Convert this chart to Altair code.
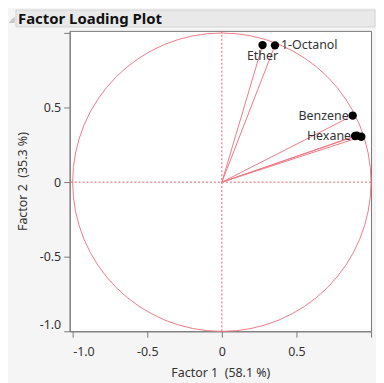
import altair as alt
import pandas as pd

# Loadings
variables = ["Ether", "1-Octanol", "Benzene", "Chloroform", "Carbon Tetrachloride", "Hexane"]
factor1 = [0.273, 0.356, 0.877, 0.906, 0.935, 0.893]
factor2 = [0.920, 0.918, 0.447, 0.312, 0.305, 0.310]
shown_labels = ["Ether", "1-Octanol", "Benzene", "", "", "Hexane"]

tick_values = [-1.0, -0.75, -0.5, -0.25, 0.0, 0.25, 0.5, 0.75, 1.0]
labelled_ticks = [-1.0, -0.5, 0.0, 0.5]

title_text = "Factor Loading Plot"
x_title = "Factor 1\u00a0\u00a0(58.1 %)"
y_title = "Factor 2\u00a0\u00a0(35.3 %)"

df = pd.DataFrame({"var": variables, "f1": factor1, "f2": factor2, "lab": shown_labels})

FONT = "Noto Sans"
RED = "#f07a86"
W, H = 303, 302

label_expr = ("indexof([" + ",".join(str(v) for v in labelled_ticks) + "], datum.value) < 0 ? '' : "
              "(datum.value == 0 ? '0' : (datum.value < 0 ? '-' + format(-datum.value, '.1f') : format(datum.value, '.1f')))")

xs = alt.Scale(domain=[-1.02, 1.0], nice=False, zero=False)
ys = alt.Scale(domain=[-1.0, 1.015], nice=False, zero=False)

x_axis = alt.Axis(values=tick_values, labelExpr=label_expr, grid=False, title=x_title,
                  tickSize=6, labelPadding=8, titlePadding=9, labelFlush=5)
y_axis = alt.Axis(values=tick_values, labelExpr=label_expr, grid=False, title=y_title,
                  tickSize=6, labelPadding=3, titlePadding=10, labelFlush=5)

base = alt.Chart(df)
one = base.transform_filter(alt.datum["var"] == variables[0])

circle = one.mark_arc(theta=0, theta2=6.2832, radius=150, filled=False,
                      stroke=RED, strokeWidth=1).encode(
    x=alt.datum(0, scale=xs, axis=x_axis, type="quantitative"),
    y=alt.datum(0, scale=ys, axis=y_axis, type="quantitative"),
)

vline = one.mark_rule(color="#e8606e", strokeDash=[2, 2], strokeWidth=1).encode(x=alt.datum(0))
hline = one.mark_rule(color="#e8606e", strokeDash=[2, 2], strokeWidth=1).encode(y=alt.datum(0))

vectors = base.mark_rule(color=RED, strokeWidth=1).encode(
    x=alt.X("f1:Q"), y=alt.Y("f2:Q"), x2=alt.datum(0), y2=alt.datum(0))

points = base.mark_circle(color="black", opacity=1, size=70).encode(
    x="f1:Q", y="f2:Q")

txt = dict(font=FONT, fontSize=12.5, color="#333333")
lab_below = base.mark_text(align="center", baseline="top", dy=5, **txt).encode(
    x="f1:Q", y="f2:Q", text="lab:N").transform_filter(alt.datum["var"] == "Ether")
lab_right = base.mark_text(align="left", baseline="middle", dx=6, **txt).encode(
    x="f1:Q", y="f2:Q", text="lab:N").transform_filter(alt.datum["var"] == "1-Octanol")
lab_left = base.mark_text(align="right", baseline="middle", dx=-4, **txt).encode(
    x="f1:Q", y="f2:Q", text="lab:N").transform_filter(
    (alt.datum["var"] == "Benzene") | (alt.datum["var"] == "Hexane"))

header_bg = one.mark_rect(fill="#e9e9e9", stroke="#d4d4d4", strokeWidth=1).encode(
    x=alt.value(-54), x2=alt.value(307), y=alt.value(-21), y2=alt.value(-4))
header_tri = one.mark_point(shape="M1,-1L1,1L-1,1Z", filled=True, fill="#cccccc",
                            stroke="#a8a8a8", strokeWidth=0.5, size=25, opacity=1).encode(
    x=alt.value(-58.2), y=alt.value(-11))
header_txt = one.mark_text(text=title_text, align="left", baseline="middle", font=FONT,
                           fontSize=15, fontWeight="bold", color="#111111").encode(
    x=alt.value(-52), y=alt.value(-12))

chart = alt.layer(circle, vline, hline, vectors, points, lab_below, lab_right, lab_left,
                  header_bg, header_tri, header_txt).properties(
    width=W, height=H, padding={"left": 0, "top": 0, "right": 0, "bottom": 4},
    background="#f5f5f5",
).configure_view(fill="white", stroke="#7a7a7a", strokeWidth=1).configure_axis(
    domainColor="#7a7a7a", tickColor="#7a7a7a", labelColor="#333333", titleColor="#333333",
    labelFont=FONT, titleFont=FONT, labelFontSize=12.5, titleFontSize=12.5,
    titleFontWeight="normal")

chart.save("out.html", embed_options={"renderer": "svg", "actions": False})
